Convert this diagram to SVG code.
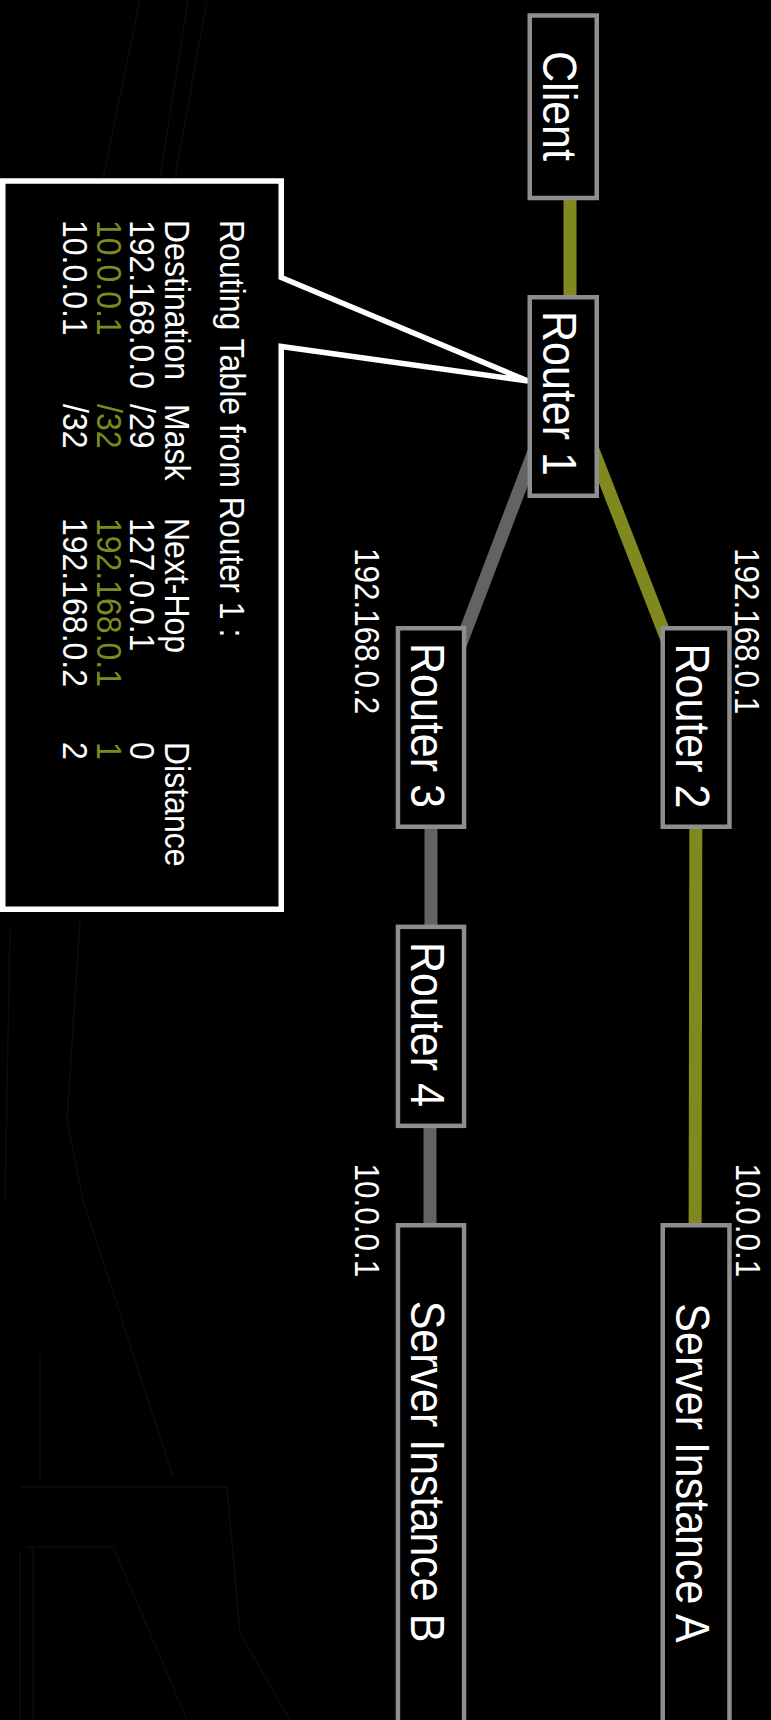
<svg xmlns="http://www.w3.org/2000/svg" width="771" height="1720" viewBox="0 0 771 1720">
  <defs>
    <style>
      .node rect { fill: #000; stroke: #8e8e8e; stroke-width: 4.5; }
      .node text { fill: #fff; font-family: "Liberation Sans", Arial, sans-serif; font-size: 43px; text-anchor: middle; }
      .edge { stroke-width: 13; fill: none; stroke-linecap: butt; }
      .olive { stroke: #80891f; }
      .grey { stroke: #636363; }
      .lbl { fill: #fff; font-family: "Liberation Sans", Arial, sans-serif; font-size: 31.5px; }
      .tbl { fill: #fff; font-family: "Liberation Sans", Arial, sans-serif; font-size: 32px; }
      .hl { fill: #80891f; }
      .bg { stroke: #0c0c0c; stroke-width: 1.5; fill: none; }
    </style>
  </defs>
  <rect x="0" y="0" width="771" height="1720" fill="#000"/>

  <g id="background">
    <path class="bg" d="M103,178 L140,0 M175,178 L207,0 M160,178 L188,0"/>
    <path class="bg" d="M80,921 L67,1120 L83,1200 L173,1477 M20,1487 L227,1487 L240,1633 L290,1720 M40,1353 L40,1480 M27,1547 L113,1547 L187,1720 M33,1547 L33,1720 M20,1553 L20,1720 M10,930 L5,1200"/>
  </g>

  <g id="connectors">
    <line class="edge olive" x1="570" y1="106" x2="570" y2="396"/>
    <line class="edge olive" x1="572" y1="396" x2="701" y2="727"/>
    <line class="edge grey" x1="555" y1="396" x2="429" y2="727"/>
    <line class="edge olive" x1="696" y1="727" x2="695" y2="1300"/>
    <line class="edge grey" x1="431" y1="727" x2="431" y2="1026"/>
    <line class="edge grey" x1="430" y1="1026" x2="430" y2="1300"/>
  </g>

  <g id="labels">
    <text class="lbl" transform="translate(735,548) scale(1.097,1) rotate(90)">192.168.0.1</text>
    <text class="lbl" transform="translate(354.5,548) scale(1.097,1) rotate(90)">192.168.0.2</text>
    <text class="lbl" transform="translate(736,1163.5) scale(1.097,1) rotate(90)">10.0.0.1</text>
    <text class="lbl" transform="translate(355,1163.5) scale(1.097,1) rotate(90)">10.0.0.1</text>
  </g>

  <g id="callout">
    <path d="M2.75,181 H281.25 V277.5 L528,381 L281.25,346.5 V909.25 H2.75 Z" fill="#000" stroke="#fff" stroke-width="5.5" stroke-linejoin="miter"/>
    <text class="tbl" transform="translate(220,0) scale(1.097,1) rotate(90)"><tspan x="220">Routing Table from Router 1 :</tspan></text>
    <text class="tbl" transform="translate(165,0) scale(1.097,1) rotate(90)"><tspan x="220">Destination</tspan><tspan x="404">Mask</tspan><tspan x="518">Next-Hop</tspan><tspan x="742">Distance</tspan></text>
    <text class="tbl" transform="translate(130,0) scale(1.097,1) rotate(90)"><tspan x="220">192.168.0.0</tspan><tspan x="404">/29</tspan><tspan x="518">127.0.0.1</tspan><tspan x="742">0</tspan></text>
    <text class="tbl hl" transform="translate(96.7,0) scale(1.097,1) rotate(90)"><tspan x="220">10.0.0.1</tspan><tspan x="404">/32</tspan><tspan x="518">192.168.0.1</tspan><tspan x="742">1</tspan></text>
    <text class="tbl" transform="translate(63.3,0) scale(1.097,1) rotate(90)"><tspan x="220">10.0.0.1</tspan><tspan x="404">/32</tspan><tspan x="518">192.168.0.2</tspan><tspan x="742">2</tspan></text>
  </g>

  <g id="client" class="node">
    <rect x="529.75" y="15.5" width="67" height="182.5"/>
    <text transform="translate(543.3,106) scale(1.097,1) rotate(90)">Client</text>
  </g>
  <g id="router1" class="node">
    <rect x="529.75" y="297.25" width="67" height="198.5"/>
    <text transform="translate(543.3,393.5) scale(1.097,1) rotate(90)">Router 1</text>
  </g>
  <g id="router2" class="node">
    <rect x="662.75" y="628.25" width="66.7" height="198.5"/>
    <text transform="translate(676,726) scale(1.097,1) rotate(90)">Router 2</text>
  </g>
  <g id="router3" class="node">
    <rect x="397.95" y="628.25" width="66.1" height="198.5"/>
    <text transform="translate(411,725.5) scale(1.097,1) rotate(90)">Router 3</text>
  </g>
  <g id="router4" class="node">
    <rect x="397.95" y="926.85" width="66.1" height="199"/>
    <text transform="translate(411,1024.5) scale(1.097,1) rotate(90)">Router 4</text>
  </g>
  <g id="server-a" class="node">
    <rect x="662.75" y="1225.25" width="66.7" height="520"/>
    <text transform="translate(676,1473) scale(1.097,1) rotate(90)">Server Instance A</text>
  </g>
  <g id="server-b" class="node">
    <rect x="397.95" y="1225.25" width="66.1" height="520"/>
    <text transform="translate(411,1471.5) scale(1.097,1) rotate(90)">Server Instance B</text>
  </g>
</svg>
